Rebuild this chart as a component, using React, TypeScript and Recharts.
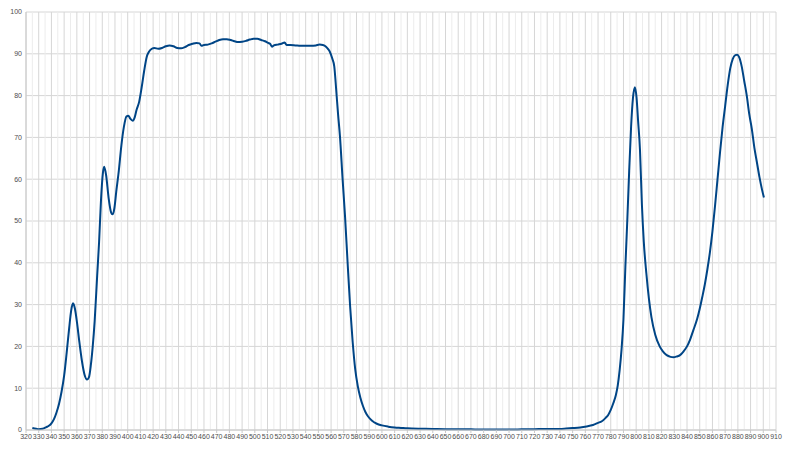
import { CartesianGrid, Line, LineChart, ReferenceLine, XAxis, YAxis } from "recharts";

// wavelength (nm) and transmission (%)
const wavelengths = [
  325, 328, 330, 333, 336, 338, 340, 342, 344, 346, 348, 350, 352, 354, 355.5, 357, 358.5, 360, 362, 364, 366, 368,
  369.5, 371, 372.5, 374, 376, 377.5, 379, 380.5, 381.5, 383, 385, 387, 388, 389.5, 391, 393, 395, 397, 399, 400.5,
  402, 404, 405.5, 407, 409, 411, 413, 415, 417, 419, 421, 424, 427, 430, 433, 436, 439, 442, 445, 448, 451, 454,
  456.5, 458, 460, 463, 466, 469, 472, 475, 478, 481, 484, 487, 490, 493, 496, 499, 502, 505, 508, 510.5, 512,
  513.5, 515, 518, 521, 523.5, 525, 528, 532, 536, 540, 544, 548, 551, 553.5, 556, 558, 559, 561, 562.5, 564,
  565.5, 567, 569, 571, 573, 575, 577, 579, 581, 583, 585, 587, 589, 592, 596, 600, 605, 610, 615, 620, 630, 640,
  650, 660, 670, 680, 690, 700, 710, 720, 730, 740, 745, 750, 756, 761, 766, 770, 773, 776, 778, 780, 782, 784,
  785.5, 787, 788.5, 790, 791.5, 793, 794.5, 796, 797.5, 799, 800.3, 801.5, 803, 804.5, 806, 808, 810, 812, 815,
  818.5, 821, 824, 827, 829.5, 832, 834.5, 837, 840, 842.5, 845, 848, 850, 852, 854, 856, 858, 860, 862, 864, 866,
  868, 870, 872, 874, 876, 878, 879.5, 881, 883, 885, 887, 889, 891, 893, 895, 897, 899, 900.5,
];
const transmission = [
  0.5, 0.3, 0.2, 0.3, 0.7, 1.0, 1.6, 2.6, 4.2, 6.3, 9.2, 13, 18.5, 24.5, 28.5, 30.3, 29, 26, 21, 16.5, 13.3, 12.1,
  12.6, 15.5, 20, 26, 37, 45, 55, 61.5, 63, 61, 55.5, 52, 51.6, 53, 57, 62, 68, 72.5, 75, 75.2,
  74.5, 74, 74.8, 76.6, 78.5, 82, 86, 89.3, 90.6, 91.2, 91.4, 91.2, 91.4, 91.8, 92, 91.8, 91.4, 91.3, 91.6, 92.1, 92.4, 92.6,
  92.5, 91.9, 92.1, 92.2, 92.5, 92.9, 93.3, 93.5, 93.5, 93.3, 93, 92.8, 92.9, 93.1, 93.4, 93.6, 93.6, 93.3, 93, 92.6, 92.4,
  91.7, 92, 92.2, 92.4, 92.7, 92.1, 92.1, 92, 91.9, 91.9, 91.9, 92, 92.2, 92.1, 91.7, 91, 90.5, 88.8, 87, 81.5,
  75.5, 70.2, 60.3, 51, 40, 29.5, 21, 14.5, 10.5, 7.8, 5.8, 4.3, 3.3, 2.3, 1.5, 1.1, 0.8, 0.6, 0.5, 0.4, 0.3, 0.25,
  0.2, 0.2, 0.15, 0.1, 0.1, 0.1, 0.15, 0.2, 0.25, 0.25, 0.35, 0.45, 0.6, 0.85, 1.2, 1.7, 2.1, 2.9, 3.6, 4.8, 6.4, 8.3,
  10.6, 14.3, 19.3, 26.5, 39, 50, 62, 72.5, 79.5, 82, 79.5, 74, 67, 54, 45, 37.5, 31.5, 27, 22.8,
  20, 18.8, 17.9, 17.5, 17.4, 17.6, 17.9, 18.7, 20, 21.7, 23.9, 26.6, 29, 31.8, 34.8, 38.4, 42.5, 47.5, 53.5, 60, 66.5,
  72.5, 77.5, 82.5, 86.5, 88.8, 89.7, 89.8, 89.2, 87, 83.5, 80, 75.5, 72, 67.5, 64, 60.5, 57.5, 55.6,
];

const xTicks = Array.from({ length: 60 }, (_, i) => 320 + i * 10);
const xMinor = Array.from({ length: 59 }, (_, i) => 325 + i * 10);
const yTicks = [0, 10, 20, 30, 40, 50, 60, 70, 80, 90, 100];

const data = wavelengths.map((nm, i) => ({ nm, t: transmission[i] }));

const tickStyle = { fill: "#4d4d4d", fontSize: 7, fontFamily: "Liberation Sans, Arial, sans-serif" };

export default function App() {
  return (
    <div style={{ position: "absolute", left: 0, top: 0, width: 800, height: 450, background: "#fff" }}>
      <LineChart width={800} height={450} data={data} margin={{ top: 12, right: 24, left: 0, bottom: 0 }}>
        {xMinor.map((v) => (
          <ReferenceLine key={v} x={v} stroke="#ececec" strokeWidth={1} />
        ))}
        <CartesianGrid stroke="#d6d6d6" strokeWidth={1} />
        <XAxis
          dataKey="nm"
          type="number"
          domain={[320, 910]}
          ticks={xTicks}
          interval={0}
          height={20}
          tick={tickStyle}
          tickSize={3}
          tickMargin={1}
          axisLine={{ stroke: "#c8c8c8" }}
          tickLine={{ stroke: "#c8c8c8" }}
        />
        <YAxis
          type="number"
          domain={[0, 100]}
          ticks={yTicks}
          interval={0}
          width={26}
          tick={tickStyle}
          tickSize={3}
          tickMargin={1}
          axisLine={{ stroke: "#c8c8c8" }}
          tickLine={false}
        />
        <Line
          type="monotone"
          dataKey="t"
          stroke="#004586"
          strokeWidth={2}
          dot={false}
          isAnimationActive={false}
        />
      </LineChart>
    </div>
  );
}
